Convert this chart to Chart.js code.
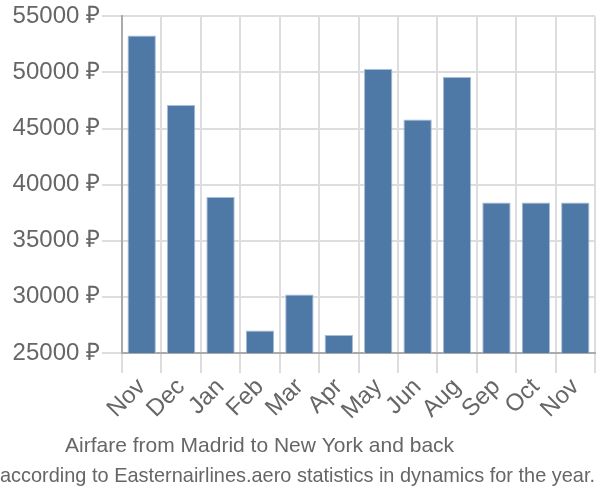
<!DOCTYPE html>
<html>
<head>
<meta charset="utf-8">
<script src="https://cdn.jsdelivr.net/npm/chart.js@4/dist/chart.umd.min.js"></script>
<style>
html,body{margin:0;padding:0;background:#fff;}
#wrap{width:600px;height:500px;}
</style>
</head>
<body>
<div id="wrap"><canvas id="c" width="600" height="500"></canvas></div>
<script>
const categories = ["Nov","Dec","Jan","Feb","Mar","Apr","May","Jun","Aug","Sep","Oct","Nov"];
const prices = [53300, 47100, 38900, 27000, 30200, 26600, 50300, 45800, 49600, 38400, 38400, 38400];
const yMin = 25000;
const yMax = 55000;
const yStep = 5000;
const titleLines = ["Airfare from Madrid to New York and back" + "\u00a0".repeat(13), "according to Easternairlines.aero statistics in dynamics for the year."];

const fam = '"Liberation Sans", Arial, sans-serif';
new Chart(document.getElementById('c'), {
  type: 'bar',
  data: {
    labels: categories,
    datasets: [{
      data: prices,
      backgroundColor: '#4e79a7',
      borderColor: '#a9bdd6',
      borderWidth: 1
    }]
  },
  options: {
    responsive: false,
    animation: false,
    layout: { padding: { top: 3, right: 5, left: 0, bottom: 0 } },
    plugins: {
      legend: { display: false },
      tooltip: { enabled: false },
      title: {
        display: true,
        position: 'bottom',
        text: titleLines,
        color: '#666',
        font: { family: fam, size: 21, weight: 'normal', lineHeight: 1.42 },
        padding: { top: 6, bottom: 9 }
      }
    },
    scales: {
      x: {
        grid: { offset: true, color: '#dddddd', lineWidth: 2, tickLength: 20 },
        border: { color: '#aaaaaa', width: 2 },
        ticks: {
          color: '#666',
          font: { family: fam, size: 24 },
          minRotation: 45, maxRotation: 45,
          autoSkip: false,
          padding: 0
        }
      },
      y: {
        min: yMin, max: yMax,
        afterFit: s => { s.width = 122; },
        grid: { color: '#dddddd', lineWidth: 2, tickLength: 20 },
        border: { color: '#aaaaaa', width: 2 },
        ticks: {
          stepSize: yStep,
          color: '#666',
          font: { family: fam, size: 24 },
          padding: 2,
          callback: v => v + ' ₽'
        }
      }
    }
  }
});
</script>
</body>
</html>
